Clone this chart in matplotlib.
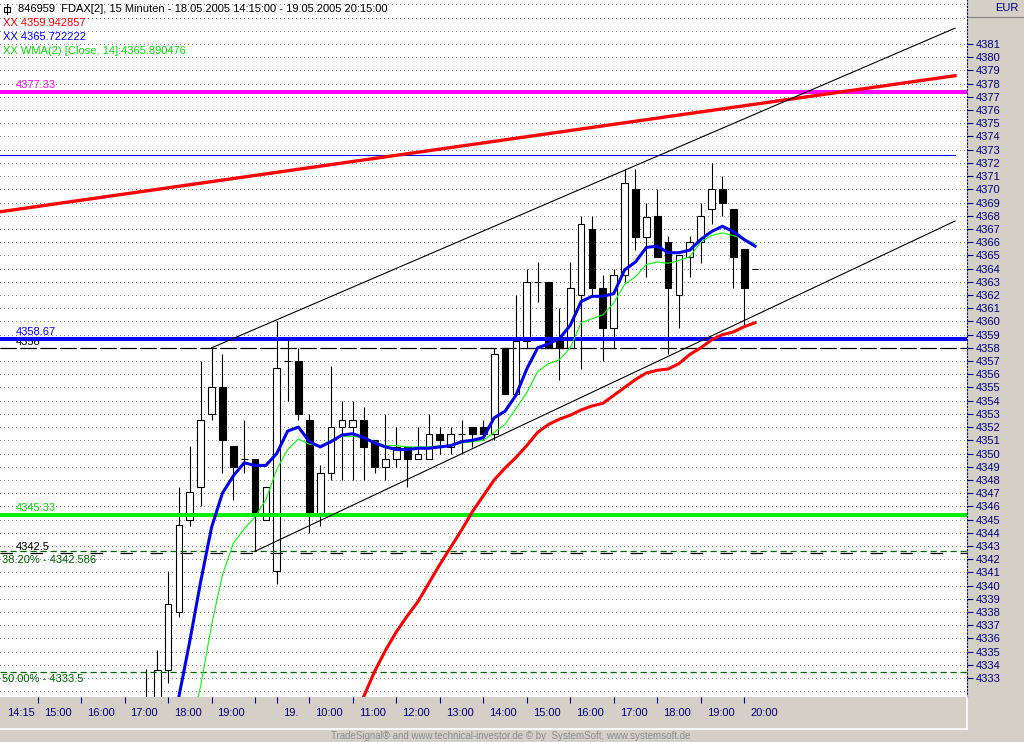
import matplotlib
matplotlib.use("Agg")
import matplotlib.pyplot as plt
from matplotlib.lines import Line2D
from matplotlib.patches import Rectangle
import numpy as np

plt.rcParams['font.family'] = ['Liberation Sans', 'DejaVu Sans']

# 15 minute bars, index 0 = 18.05. 14:15, bars before index 13 lie below the chart
first_bar = 13
opens = [4330.0, 4330.5, 4333.6, 4338.0, 4345.0, 4347.5, 4353.0, 4355.0, 4350.6, 4349.6,
         4349.6, 4345.0, 4341.1, 4357.0, 4357.0, 4352.5, 4345.5, 4348.5, 4352.0, 4352.0,
         4352.5, 4351.0, 4349.0, 4349.6, 4350.5, 4349.6, 4349.6, 4351.5, 4350.5, 4351.5,
         4352.0, 4352.0, 4351.5, 4358.0, 4354.5, 4358.5, 4363.0, 4363.0, 4358.7, 4358.0,
         4362.0, 4367.0, 4362.5, 4359.5, 4363.5, 4370.0, 4366.4, 4368.0, 4366.0, 4362.0,
         4364.9, 4366.0, 4368.5, 4370.0, 4368.5, 4365.5, 4364.0]
highs = [4333.7, 4335.1, 4341.1, 4347.5, 4350.6, 4357.0, 4358.0, 4357.5, 4350.6, 4352.5,
         4349.6, 4347.5, 4360.0, 4358.6, 4358.0, 4353.0, 4349.1, 4356.6, 4354.0, 4354.0,
         4353.5, 4351.0, 4353.0, 4352.0, 4350.5, 4352.0, 4353.0, 4352.0, 4352.0, 4352.5,
         4352.0, 4352.5, 4358.0, 4358.0, 4362.0, 4364.0, 4364.5, 4363.0, 4361.0, 4364.5,
         4368.0, 4368.0, 4363.5, 4364.0, 4371.5, 4371.5, 4369.0, 4370.0, 4366.5, 4365.0,
         4366.5, 4369.0, 4372.0, 4371.0, 4368.5, 4365.5, 4364.0]
lows = [4329.5, 4329.5, 4332.6, 4337.6, 4344.5, 4346.0, 4352.5, 4348.5, 4346.5, 4348.5,
        4342.6, 4345.0, 4340.1, 4354.0, 4352.5, 4344.0, 4344.5, 4348.0, 4348.0, 4348.0,
        4348.0, 4348.5, 4348.0, 4349.0, 4347.5, 4349.6, 4349.6, 4350.0, 4350.0, 4350.0,
        4350.5, 4351.0, 4351.0, 4354.5, 4354.5, 4358.0, 4361.5, 4358.0, 4355.6, 4358.0,
        4356.4, 4362.0, 4357.0, 4358.0, 4363.0, 4365.4, 4363.4, 4364.9, 4357.5, 4359.5,
        4363.4, 4364.4, 4367.4, 4368.0, 4362.5, 4359.7, 4364.0]
closes = [4331.0, 4333.6, 4338.6, 4344.6, 4347.1, 4352.5, 4355.0, 4351.0, 4349.0, 4349.6,
          4345.5, 4347.5, 4356.5, 4357.0, 4353.0, 4345.5, 4348.5, 4352.0, 4352.5, 4352.5,
          4350.5, 4349.0, 4349.6, 4350.5, 4349.6, 4350.0, 4351.5, 4351.0, 4351.5, 4351.5,
          4351.5, 4351.5, 4357.5, 4354.5, 4358.5, 4363.0, 4363.0, 4358.0, 4358.0, 4362.5,
          4367.4, 4362.5, 4359.5, 4363.5, 4370.5, 4366.4, 4367.9, 4364.9, 4362.5, 4365.0,
          4366.0, 4368.0, 4370.0, 4369.0, 4364.9, 4362.5, 4364.0]

# moving averages (blue, green WMA 14, red)
blue_start = 16
blue_ma = [4331.6, 4335.8, 4340.3, 4344.4, 4347.0, 4348.3, 4349.3, 4349.1, 4349.1, 4350.0,
           4351.7, 4352.0, 4350.9, 4350.5, 4350.9, 4351.4, 4351.5, 4351.2, 4350.8, 4350.5,
           4350.3, 4350.3, 4350.4, 4350.4, 4350.5, 4350.6, 4350.9, 4351.0, 4351.2, 4352.7,
           4353.2, 4354.4, 4356.4, 4358.0, 4358.3, 4358.7, 4359.7, 4361.5, 4361.9, 4361.9,
           4362.1, 4363.9, 4364.5, 4365.6, 4365.7, 4365.2, 4365.2, 4365.4, 4366.2, 4366.8,
           4367.2, 4366.8, 4366.2, 4365.7]
green_start = 17
green_ma = [4329.0, 4332.4, 4337.0, 4340.8, 4343.2, 4344.3, 4345.2, 4346.5, 4348.8, 4350.3,
            4351.1, 4350.7, 4350.6, 4351.0, 4351.3, 4351.3, 4351.2, 4350.9, 4350.6, 4350.6,
            4350.5, 4350.5, 4350.5, 4350.6, 4350.6, 4350.8, 4350.9, 4351.0, 4351.6, 4352.2,
            4353.4, 4354.6, 4356.2, 4356.8, 4357.1, 4358.0, 4359.9, 4360.2, 4360.5, 4361.4,
            4362.8, 4363.4, 4364.3, 4364.5, 4364.4, 4364.6, 4364.9, 4366.0, 4366.5, 4366.7,
            4366.5, 4366.2, 4365.9]
red_start = 33
red_ma = [4331.6, 4333.5, 4335.1, 4336.5, 4337.7, 4338.8, 4340.2, 4341.6, 4342.9, 4344.2,
          4345.6, 4346.8, 4348.0, 4348.9, 4349.7, 4350.6, 4351.6, 4352.2, 4352.6, 4352.9,
          4353.3, 4353.6, 4353.8, 4354.4, 4355.0, 4355.6, 4356.1, 4356.3, 4356.4, 4356.8,
          4357.5, 4358.0, 4358.6, 4359.0, 4359.2, 4359.6, 4359.9]

# horizontal levels
magenta_level = 4377.33
blue_level = 4358.67
green_level = 4345.33
black_level_hi = 4358.0
black_level_lo = 4342.5
fib_382 = 4342.586
fib_500 = 4333.5
high_line = 4372.6

# trend lines: (bar, price) pairs
red_trend = [(-0.46, 4368.3), (87.4, 4378.6)]
upper_channel = [(19, 4358.0), (87.4, 4382.2)]
lower_channel = [(23, 4342.6), (87.4, 4367.6)]

# time axis
tick_bars = [3, 7, 11, 15, 19, 23, 25, 28, 32, 36, 40, 44, 48, 52, 56, 60, 64, 68]
label_bars = [0, 3, 7, 11, 15, 19, 25, 28, 32, 36, 40, 44, 48, 52, 56, 60, 64, 68]
time_labels = ["14:15", "15:00", "16:00", "17:00", "18:00", "19:00", "19.", "10:00", "11:00",
               "12:00", "13:00", "14:00", "15:00", "16:00", "17:00", "18:00", "19:00", "20:00"]

navy = '#000080'
panel = '#d4d0c8'

fig = plt.figure(figsize=(10.24, 7.42), dpi=100, facecolor=panel)
ax = fig.add_axes([0, 45 / 742, 967 / 1024, 697 / 742])
ax.set_facecolor('white')
ax.set_xlim(-0.46, 88.5)
ax.set_ylim(4331.57, 4384.33)

# dotted price grid
for p in np.arange(4332, 4385):
    ax.axhline(p, color='#8a8a8a', lw=0.72, linestyle=(0, (1, 4)), zorder=0,
               antialiased=False)

# candles
xs = np.arange(first_bar, first_bar + len(opens))
o = np.array(opens)
c = np.array(closes)
ax.vlines(xs, lows, highs, color='black', lw=0.8, zorder=2)
body_bottom = np.minimum(o, c)
body_height = np.abs(c - o)
face = ['white' if cl >= op else 'black' for op, cl in zip(o, c)]
ax.bar(xs, body_height, bottom=body_bottom, width=0.62, color=face,
       edgecolor='black', linewidth=0.8, zorder=2.2)

# level lines
ax.axhline(magenta_level, color='#ff00ff', lw=2.9, zorder=3)
ax.axhline(blue_level, color='#0000ff', lw=2.9, zorder=3)
ax.axhline(green_level, color='#00ee00', lw=2.9, zorder=3)
ax.plot([-0.46, 87.4], [high_line, high_line], color='#0000ff', lw=0.8, zorder=3)
ax.axhline(black_level_hi, color='black', lw=0.9, linestyle=(0, (13, 3)), zorder=3)
ax.axhline(fib_382, color='#006400', lw=0.9, linestyle=(0, (5, 3)), zorder=3)
ax.axhline(black_level_lo, color='black', lw=0.9, linestyle=(0, (10, 14)), zorder=3)
ax.axhline(fib_500, color='#006400', lw=0.9, linestyle=(0, (5, 3)), zorder=3)

# trend lines
for pts, col, lw in [(red_trend, '#ff0000', 2.4), (upper_channel, 'black', 0.8),
                     (lower_channel, 'black', 0.8)]:
    ax.plot([pts[0][0], pts[1][0]], [pts[0][1], pts[1][1]], color=col, lw=lw, zorder=3.2)

# moving averages
ax.plot(np.arange(red_start, red_start + len(red_ma)), red_ma, color='#ff0000', lw=2.2, zorder=4)
ax.plot(np.arange(green_start, green_start + len(green_ma)), green_ma, color='#00ff00', lw=0.8, zorder=4)
ax.plot(np.arange(blue_start, blue_start + len(blue_ma)), blue_ma, color='#0000ee', lw=2.2, zorder=4.1)

# level labels
def level_label(text, level, xpix, dy_pix, color):
    ax.annotate(text, xy=(xpix / 967, level), xycoords=('axes fraction', 'data'),
                xytext=(0, dy_pix * 0.72), textcoords='offset points',
                ha='left', va='center', fontsize=8, color=color, zorder=2.9)

level_label("4377.33", magenta_level, 16, 7, '#ff00ff')
level_label("4358.67", blue_level, 16, 7, '#0000ff')
level_label("4358", black_level_hi, 16, 5.5, 'black')
level_label("4345.33", green_level, 16, 7, '#00dd00')
level_label("4342.5", black_level_lo, 16, 5.5, 'black')
level_label("38.20% - 4342.586", fib_382, 2, -8.5, '#006400')
level_label("50.00% - 4333.5", fib_500, 2, -7, '#006400')

# right price axis
ax.yaxis.tick_right()
ax.set_yticks(np.arange(4333, 4382))
ax.set_yticklabels([str(v) for v in range(4333, 4382)])
ax.tick_params(axis='y', direction='out', length=4, width=0.8, color=navy,
               labelcolor=navy, labelsize=8, pad=2)
for side in ['top', 'left', 'bottom']:
    ax.spines[side].set_visible(False)
ax.spines['right'].set_color(navy)
ax.spines['right'].set_linestyle((0, (1, 2)))
ax.spines['right'].set_linewidth(0.8)

# time axis
ax.set_xticks(tick_bars)
ax.tick_params(axis='x', direction='out', length=4, width=0.8, color=navy,
               labelbottom=False, pad=0)
for b, lab in zip(label_bars, time_labels):
    ax.annotate(lab, xy=(b, 0), xycoords=('data', 'axes fraction'),
                xytext=(6 * 0.72 if b else 2 * 0.72, -16 * 0.72), textcoords='offset points',
                ha='left', va='center', fontsize=8, color=navy)

# header
fig.text(18 / 1024, 1 - 9 / 742,
         "846959  FDAX[2], 15 Minuten - 18.05.2005 14:15:00 - 19.05.2005 20:15:00",
         fontsize=8, color='black', va='center')
fig.text(3 / 1024, 1 - 23 / 742, "XX 4359.942857", fontsize=8, color='#ff0000', va='center')
fig.text(3 / 1024, 1 - 37 / 742, "XX 4365.722222", fontsize=8, color='#0000ff', va='center')
fig.text(3 / 1024, 1 - 51 / 742, "XX WMA(2) [Close, 14]:4365.890476", fontsize=8,
         color='#00dd00', va='center')
fig.add_artist(Rectangle((4 / 1024, 1 - 12 / 742), 6 / 1024, 5 / 742, fill=False,
                         edgecolor='black', lw=0.8, transform=fig.transFigure))
fig.add_artist(Line2D([7 / 1024, 7 / 1024], [1 - 14 / 742, 1 - 4 / 742], color='black',
                      lw=0.8, transform=fig.transFigure))

# panels and footer
fig.text(1018 / 1024, 1 - 8 / 742, "EUR", fontsize=8, color=navy, ha='right', va='center')
fig.add_artist(Line2D([968 / 1024, 1], [1 - 17 / 742, 1 - 17 / 742], color='#808080',
                      lw=0.8, transform=fig.transFigure))
fig.add_artist(Line2D([0, 967 / 1024], [1 - 729 / 742, 1 - 729 / 742], color='white',
                      lw=1.2, transform=fig.transFigure))
fig.add_artist(Line2D([967 / 1024, 967 / 1024], [1 - 729 / 742, 1 - 697 / 742], color='white',
                      lw=1.2, transform=fig.transFigure))
fig.text(511 / 1024, 1 - 736 / 742,
         "TradeSignal\u00ae and www.technical-investor.de \u00a9 by  SystemSoft, www.systemsoft.de",
         fontsize=7, color='#8c8c8c', ha='center', va='center')

fig.savefig("out.png", dpi=100, facecolor=panel)
